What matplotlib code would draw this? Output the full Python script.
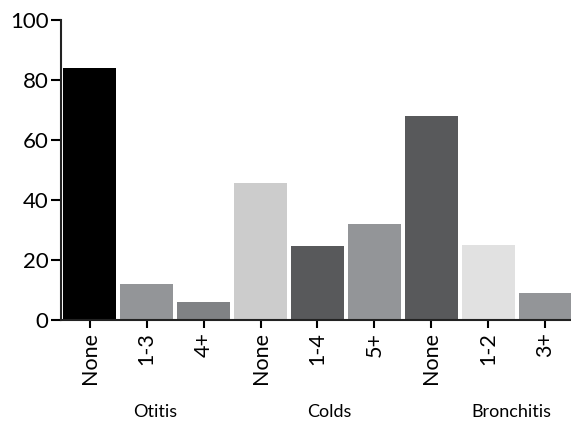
import numpy as np
import matplotlib.pyplot as plt

# ----------------
# DATA
# ----------------
labels = ["None", "1-3", "4+", "None", "1-4", "5+", "None", "1-2", "3+"]
values = [84, 12, 6, 45.5, 24.5, 32, 68, 25, 9]
colors = ["#000000", "#939598", "#808285", "#cccccc", "#58595b",
          "#939598", "#58595b", "#e1e1e1", "#939598"]
groups = ["Otitis", "Colds", "Bronchitis"]
group_pos = [1.16, 4.2, 7.4]

plt.rcParams["font.family"] = ["Lato", "DejaVu Sans"]

fig = plt.figure(figsize=(5.71, 4.21), dpi=100)
ax = fig.add_axes([0.107, 0.24, 0.893, 0.713])

x = np.arange(len(values))
ax.bar(x, values, width=0.92, color=colors, edgecolor="none")

ax.set_xlim(-0.5, 8.45)
ax.set_ylim(0, 100)
ax.set_yticks([0, 20, 40, 60, 80, 100])
ax.set_xticks(x)
ax.set_xticklabels(labels, rotation=90, fontsize=15.5)
ax.tick_params(axis="y", labelsize=16, length=7, width=1.5, direction="out", pad=2)
ax.tick_params(axis="x", length=6, width=1.5, direction="out", pad=3)

for s in ["top", "right"]:
    ax.spines[s].set_visible(False)
for s in ["left", "bottom"]:
    ax.spines[s].set_linewidth(1.5)
    ax.spines[s].set_color("#222222")

# group names under the tick labels
for name, pos in zip(groups, group_pos):
    ax.text(pos, -30.5, name, ha="center", va="center", fontsize=13,
            transform=ax.transData, clip_on=False)

fig.savefig("out.png", dpi=100)
